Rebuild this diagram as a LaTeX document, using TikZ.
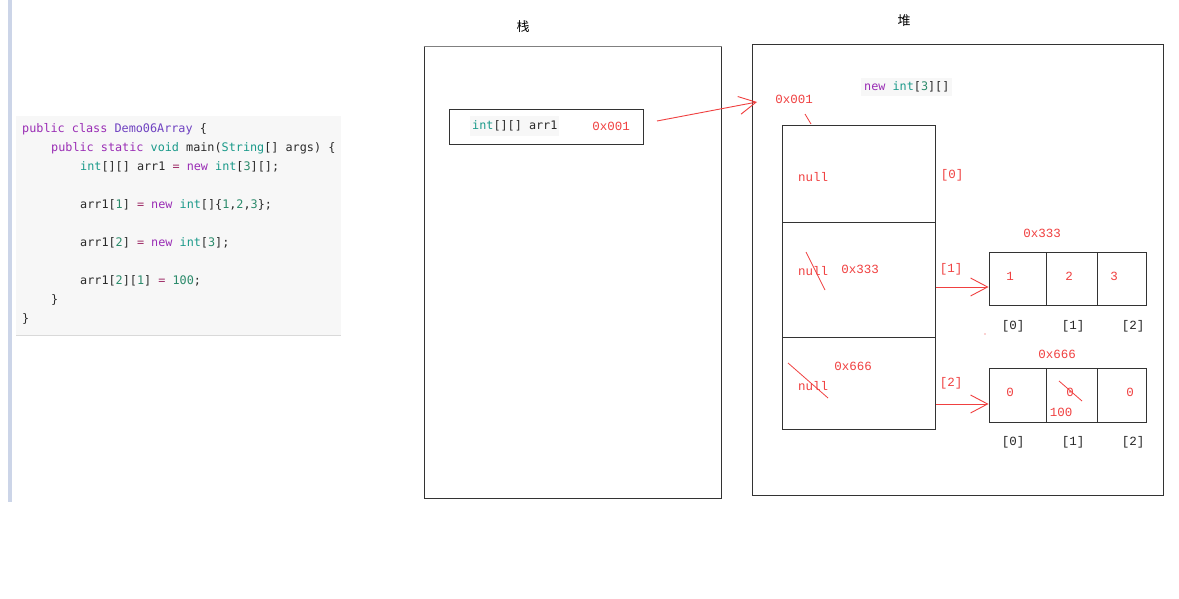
\documentclass[tikz,border=0pt]{standalone}
\usepackage{fontspec}
\usetikzlibrary{arrows.meta}
\newfontfamily\codefont{DejaVu Sans Mono}
\newfontfamily\redfont{Liberation Mono}
\newfontfamily\cjk{Noto Sans CJK SC}
\definecolor{kw}{HTML}{9A2DB5}
\definecolor{ty}{HTML}{1A9A8A}
\definecolor{num}{HTML}{2A8A6A}
\definecolor{cls}{HTML}{6F42C1}
\definecolor{op}{HTML}{A0306A}
\definecolor{txt}{HTML}{2A2A2A}
\definecolor{rd}{HTML}{F04040}
\definecolor{barc}{HTML}{CCD5E8}
\definecolor{codebg}{HTML}{F7F7F7}
\definecolor{boxc}{HTML}{333333}
\newcommand{\K}[1]{\textcolor{kw}{#1}}
\newcommand{\T}[1]{\textcolor{ty}{#1}}
\newcommand{\N}[1]{\textcolor{num}{#1}}
\newcommand{\Op}[1]{\textcolor{op}{#1}}
\tikzset{
  codeline/.style={anchor=west,inner sep=0pt,font=\codefont\fontsize{11.8}{14}\selectfont,text=txt},
  redtxt/.style={inner sep=0pt,font=\redfont\fontsize{12.5}{14}\selectfont,text=rd},
  blktxt/.style={inner sep=0pt,font=\redfont\fontsize{12.5}{14}\selectfont,text=black!85},
  cjklabel/.style={inner sep=0pt,font=\cjk\fontsize{13}{15}\selectfont,text=black},
  frame/.style={draw=boxc,line width=1pt},
  redarrow/.style={draw=rd,line width=0.9pt,-{Straight Barb[length=17pt,width=18pt,line width=0.9pt]}},
  redline/.style={draw=rd,line width=0.8pt},
}
\begin{document}
\begin{tikzpicture}[x=1pt,y=-1pt]
\useasboundingbox (0,0) rectangle (1179,599);
\fill[white] (0,0) rectangle (1179,599);
% left bar
\fill[barc] (8,0) rectangle (12,502);
% code block
\fill[codebg] (16,116) rectangle (341,335);
\draw[gray!30,line width=1pt] (16,335) -- (341,335);
\node[codeline] (c1) at (22,129) {\K{public} \K{class} \textcolor{cls}{Demo06Array} \{};
\node[codeline] (c2) at (51,148) {\K{public} \K{static} \T{void} main(\T{String}[] args) \{};
\node[codeline] (c3) at (80,167) {\T{int}[][] arr1 \Op{=} \K{new} \T{int}[\N{3}][];};
\node[codeline] (c4) at (80,205) {arr1[\N{1}] \Op{=} \K{new} \T{int}[]\{\N{1},\N{2},\N{3}\};};
\node[codeline] (c5) at (80,243) {arr1[\N{2}] \Op{=} \K{new} \T{int}[\N{3}];};
\node[codeline] (c6) at (80,281) {arr1[\N{2}][\N{1}] \Op{=} \N{100};};
\node[codeline] (c7) at (51,300) {\}};
\node[codeline] (c8) at (22,319) {\}};
% labels
\node[cjklabel] (stacklbl) at (523,27) {栈};
\node[cjklabel] (heaplbl) at (904,21) {堆};
% stack
\node[frame,minimum width=297pt,minimum height=451pt,inner sep=0pt] (stack) at (572.5,272.5) {};
\draw[gray,line width=1.6pt] (stack.north west) -- (stack.north east);
\node[frame,minimum width=194pt,minimum height=35pt,inner sep=0pt] (arrbox) at (546,127.5) {};
\fill[codebg] (470,116) rectangle (559,136);
\node[codeline] (arrdecl) at (472,126) {\T{int}[][] arr1};
\node[redtxt] (addr1) at (611,126) {0x001};
% heap
\node[frame,minimum width=411pt,minimum height=450pt,inner sep=0pt] (heap) at (957.5,270) {};
\fill[codebg] (861,78) rectangle (952,96);
\node[codeline] (newint) at (864,87) {\K{new} \T{int}[\N{3}][]};
\node[redtxt] (haddr1) at (794,99) {0x001};
\coordinate (arrs) at (657,121);
\coordinate (arre) at (757,102);
\draw[redarrow] (arrs) -- (arre);
\coordinate (tk1) at (805,114);
\coordinate (tk2) at (811,124);
\draw[redline] (tk1) -- (tk2);
% outer array
\node[frame,minimum width=153pt,minimum height=97pt,inner sep=0pt] (o0) at (858.5,174.5) {};
\node[frame,minimum width=153pt,minimum height=114pt,inner sep=0pt] (o1) at (858.5,280) {};
\node[frame,minimum width=153pt,minimum height=92pt,inner sep=0pt] (o2) at (858.5,383) {};
\node[redtxt] (n0) at (813,177) {null};
\node[redtxt] (i0) at (952,175) {[0]};
\node[redtxt] (n1) at (813,271) {null};
\draw[redline] (806,252) -- (825,290);
\node[redtxt] (a1) at (860,269) {0x333};
\node[redtxt] (i1) at (951,269) {[1]};
\node[redtxt] (a2) at (853,366) {0x666};
\node[redtxt] (n2) at (813,386) {null};
\draw[redline] (788,363) -- (828,398);
\node[redtxt] (i2) at (951,383) {[2]};
% small arrays
\node[frame,minimum width=57pt,minimum height=53pt,inner sep=0pt] (s10) at (1017.5,278.5) {};
\node[frame,minimum width=51pt,minimum height=53pt,inner sep=0pt] (s11) at (1071.5,278.5) {};
\node[frame,minimum width=49pt,minimum height=53pt,inner sep=0pt] (s12) at (1121.5,278.5) {};
\node[redtxt] (l333) at (1042,233) {0x333};
\node[redtxt] (v10) at (1010,276) {1};
\node[redtxt] (v11) at (1069,276) {2};
\node[redtxt] (v12) at (1114,276) {3};
\node[blktxt] (x10) at (1013,326) {[0]};
\node[blktxt] (x11) at (1073,326) {[1]};
\node[blktxt] (x12) at (1133,326) {[2]};
\fill[rd] (985,334) circle (0.7pt);
\node[frame,minimum width=57pt,minimum height=54pt,inner sep=0pt] (s20) at (1017.5,395) {};
\node[frame,minimum width=51pt,minimum height=54pt,inner sep=0pt] (s21) at (1071.5,395) {};
\node[frame,minimum width=49pt,minimum height=54pt,inner sep=0pt] (s22) at (1121.5,395) {};
\node[redtxt] (l666) at (1057,354) {0x666};
\node[redtxt] (v20) at (1010,392) {0};
\node[redtxt] (v21) at (1070,392) {0};
\draw[redline] (1059,381) -- (1082,401);
\node[redtxt] (v22) at (1130,392) {0};
\node[redtxt] (v100) at (1061,412) {100};
\node[blktxt] (x20) at (1013,442) {[0]};
\node[blktxt] (x21) at (1073,442) {[1]};
\node[blktxt] (x22) at (1133,442) {[2]};
% arrows to small arrays
\draw[redarrow] (o1.east |- 0,287) -- (s10.west |- 0,287);
\draw[redarrow] (o2.east |- 0,404) -- (s20.west |- 0,404);
\end{tikzpicture}
\end{document}
